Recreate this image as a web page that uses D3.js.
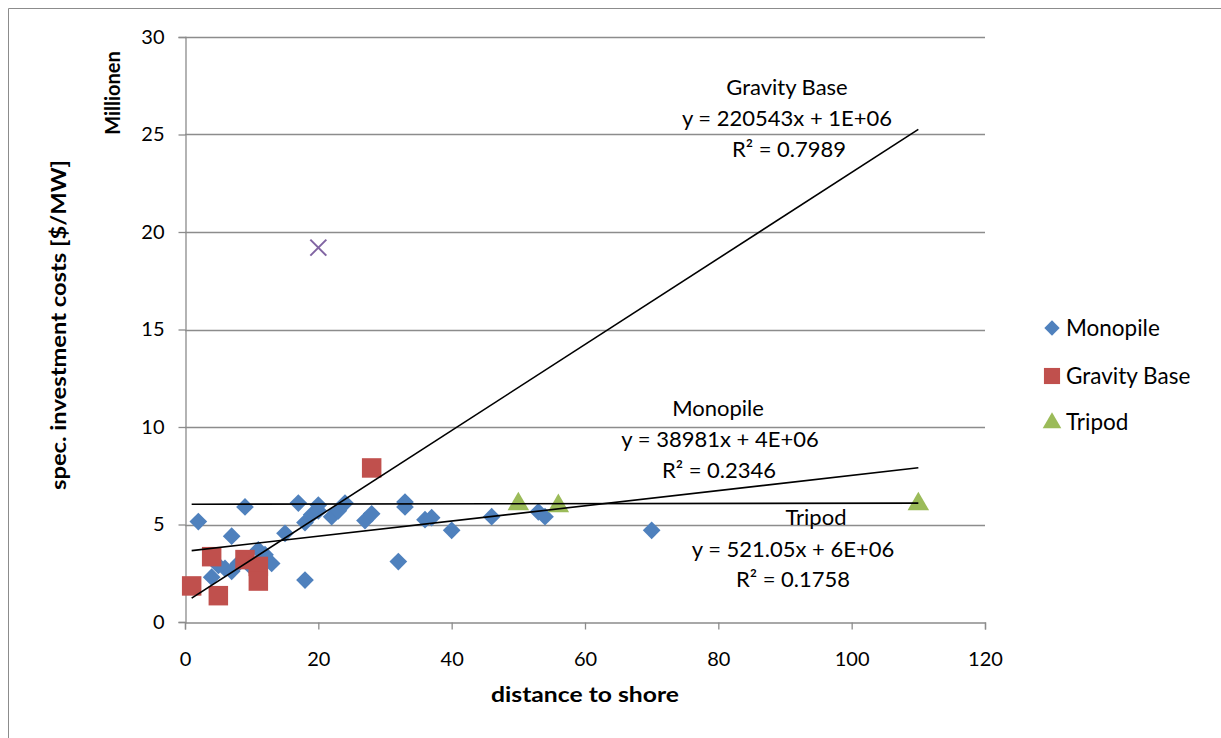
<!DOCTYPE html>
<html><head><meta charset="utf-8">
<script src="https://cdn.jsdelivr.net/npm/d3@7"></script>
<style>
html,body{margin:0;padding:0;background:#fff;}
svg{display:block;font-family:Lato,"Open Sans",sans-serif;}
</style></head>
<body>
<svg id="chart" width="1221" height="738"></svg>
<script>
// Data (y in millions of $/MW)
const monopileX = [2,4,5,6,7,7,8,9,10,11,12,13,15,17,18,18,19,20,20,22,23,24,27,28,32,33,33,36,37,40,46,53,54,70];
const monopileY = [5.15,2.3,2.9,2.75,2.6,4.4,3.0,5.9,2.8,3.7,3.45,3.0,4.55,6.1,2.15,5.1,5.5,6.0,5.7,5.4,5.7,6.1,5.2,5.55,3.1,6.15,5.9,5.25,5.35,4.7,5.4,5.65,5.4,4.7];
const gravityX = [1,4,5,9,11,11,28];
const gravityY = [1.85,3.35,1.35,3.2,2.85,2.1,7.9];
const tripodX = [50,56,110];
const tripodY = [6.1,6.0,6.1];
const otherX = [20];
const otherY = [19.2];
const seriesNames = ["Monopile","Gravity Base","Tripod"];
const trendSlopes = [38981, 220543, 521.05];     // $/MW per km
const trendIntercepts = [3.62e6, 1.0e6, 6.04e6]; // $/MW
const trendRange = [1,110];
const trendEquations = ["y = 38981x + 4E+06","y = 220543x + 1E+06","y = 521.05x + 6E+06"];
const trendR2 = ["R² = 0.2346","R² = 0.7989","R² = 0.1758"];
const xTicks = [0,20,40,60,80,100,120];
const yTicks = [0,5,10,15,20,25,30];

const colors = ["#4F81BD","#C0504D","#9BBB59"];
const otherColor = "#8064A2";
const gridColor = "#8c8c8c";

const svg = d3.select("#chart");
// outer chart border
svg.append("path").attr("d","M8.5,738 L8.5,8.5 L1221,8.5").attr("fill","none").attr("stroke","#8c8c8c").attr("stroke-width",1);

const x = d3.scaleLinear().domain([0,120]).range([185,985]);
const y = d3.scaleLinear().domain([0,30]).range([622,37]);

// gridlines
svg.append("g").selectAll("line").data(yTicks.filter(d=>d>0)).join("line")
  .attr("x1",x(0)).attr("x2",x(120)).attr("y1",d=>Math.round(y(d))+0.5).attr("y2",d=>Math.round(y(d))+0.5)
  .attr("stroke",gridColor).attr("stroke-width",1.3);

// axes
const yAxis = d3.axisLeft(y).tickValues(yTicks).tickSize(7).tickPadding(14).tickFormat(d3.format("d"));
const xAxis = d3.axisBottom(x).tickValues(xTicks).tickSize(7).tickPadding(22).tickFormat(d3.format("d"));
const gy = svg.append("g").attr("transform",`translate(${x(0)+0.5},0)`).call(yAxis);
const gx = svg.append("g").attr("transform",`translate(0,${y(0)+0.5})`).call(xAxis);
[gx,gy].forEach(g=>{
  g.select(".domain").attr("stroke",gridColor).attr("stroke-width",1.3);
  g.selectAll(".tick line").attr("stroke",gridColor).attr("stroke-width",1.3);
  g.selectAll(".tick text").attr("fill","#000").style("font-size","20px").style("font-family","Lato,sans-serif");
});

// markers
const diamond = d3.symbol().type(d3.symbolDiamond2).size(200);
const square = d3.symbol().type(d3.symbolSquare).size(380);
const triangle = d3.symbol().type(d3.symbolTriangle).size(200);

const mono = monopileX.map((v,i)=>({x:v,y:monopileY[i]}));
const grav = gravityX.map((v,i)=>({x:v,y:gravityY[i]}));
const trip = tripodX.map((v,i)=>({x:v,y:tripodY[i]}));
const oth = otherX.map((v,i)=>({x:v,y:otherY[i]}));

svg.append("g").selectAll("path").data(mono).join("path")
  .attr("d",diamond).attr("transform",d=>`translate(${x(d.x)},${y(d.y)})`).attr("fill",colors[0]);
svg.append("g").selectAll("path").data(grav).join("path")
  .attr("d",square).attr("transform",d=>`translate(${x(d.x)},${y(d.y)})`).attr("fill",colors[1]);
svg.append("g").selectAll("path").data(trip).join("path")
  .attr("d",triangle).attr("transform",d=>`translate(${x(d.x)},${y(d.y)+1})`).attr("fill",colors[2]);
const ox = svg.append("g").selectAll("g").data(oth).join("g")
  .attr("transform",d=>`translate(${x(d.x)},${y(d.y)})`);
ox.append("line").attr("x1",-8).attr("y1",-8).attr("x2",8).attr("y2",8).attr("stroke",otherColor).attr("stroke-width",2);
ox.append("line").attr("x1",-8).attr("y1",8).attr("x2",8).attr("y2",-8).attr("stroke",otherColor).attr("stroke-width",2);

// trendlines
const trends = trendSlopes.map((s,i)=>({s:s,b:trendIntercepts[i]}));
svg.append("g").selectAll("line").data(trends).join("line")
  .attr("x1",x(trendRange[0])).attr("x2",x(trendRange[1]))
  .attr("y1",d=>y((d.s*trendRange[0]+d.b)/1e6)).attr("y2",d=>y((d.s*trendRange[1]+d.b)/1e6))
  .attr("stroke","#000").attr("stroke-width",1.6);

// trendline labels (baselines)
const labelPos = [
  {cx:[718,720,719], by:[416,447,478]},
  {cx:[787,787,789], by:[95,126,157]},
  {cx:[816,793,793], by:[525,557,587]}
];
const lg = svg.append("g").style("font-size","22px").attr("fill","#000");
seriesNames.forEach((n,i)=>{
  const lines=[n,trendEquations[i],trendR2[i]];
  lines.forEach((t,j)=>{
    lg.append("text").attr("x",labelPos[i].cx[j]).attr("y",labelPos[i].by[j])
      .attr("text-anchor","middle").text(t);
  });
});

// axis titles
svg.append("text").attr("x",585).attr("y",702).attr("text-anchor","middle")
  .attr("textLength",188).attr("lengthAdjust","spacingAndGlyphs")
  .style("font-size","21px").style("font-weight","bold").text("distance to shore");
svg.append("text").attr("transform","translate(66,325) rotate(-90)").attr("text-anchor","middle")
  .attr("textLength",330).attr("lengthAdjust","spacingAndGlyphs")
  .style("font-size","21px").style("font-weight","bold").text("spec. investment costs [$/MW]");
svg.append("text").attr("transform","translate(120,93) rotate(-90)").attr("text-anchor","middle")
  .style("font-size","20px").style("font-weight","bold").text("Millionen");

// legend
const legY = [328,376,422];
const legSyms = [d3.symbol().type(d3.symbolDiamond2).size(150), d3.symbol().type(d3.symbolSquare).size(260), d3.symbol().type(d3.symbolTriangle).size(150)];
const leg = svg.append("g");
seriesNames.forEach((n,i)=>{
  leg.append("path").attr("d",legSyms[i]).attr("transform",`translate(1052,${legY[i]+(i===2?1:0)})`).attr("fill",colors[i]);
  leg.append("text").attr("x",1066).attr("y",legY[i]+8).style("font-size","22.5px").text(n);
});
</script>
</body></html>
